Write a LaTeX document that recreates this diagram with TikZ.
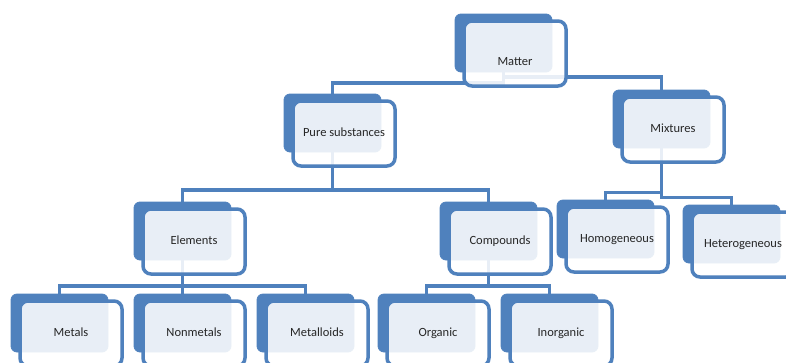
\documentclass[tikz,border=0pt]{standalone}
\usepackage{fontspec}
\setmainfont{Carlito}
\usetikzlibrary{calc}
\definecolor{obl}{HTML}{4F81BD}
\definecolor{txt}{HTML}{262626}
\pgfdeclarelayer{background}
\pgfsetlayers{background,main}
\newcommand{\orgbox}[5][]{%
  \node[backbox] (#2B) at (#3,#4) {};
  \node[frontbox,#1] (#2) at (#3+9,#4+7) {#5};}
\begin{document}
\begin{tikzpicture}[x=1pt,y=-1pt,
  backbox/.style={draw=obl,fill=obl,line width=0.8pt,rounded corners=6pt,
    minimum width=97pt,minimum height=58pt,anchor=north west,inner sep=0pt,outer sep=0pt},
  frontbox/.style={draw=obl,line width=3.5pt,fill=white,fill opacity=0.87,draw opacity=1,
    text opacity=1,rounded corners=8pt,minimum width=102pt,minimum height=65pt,
    anchor=north west,inner sep=0pt,outer sep=0pt,
    font=\fontsize{12.5}{14}\selectfont,text=txt,text height=9pt,text depth=2.5pt},
  conn/.style={draw=obl,line width=3.2pt}]
\useasboundingbox (0,0) rectangle (786,362);
\clip (0,0) rectangle (786,362);
% level 1
\orgbox[text height=25pt,text depth=2pt]{matter}{455}{14}{Matter}
% level 2
\orgbox{pure}{284}{94}{Pure substances}
\orgbox{mix}{613}{90}{Mixtures}
% level 3
\orgbox{elem}{134}{202}{Elements}
\orgbox{comp}{440}{202}{Compounds}
\orgbox{homo}{557}{200}{Homogeneous}
\orgbox{hetero}{683}{205}{Heterogeneous}
% level 4
\orgbox{metals}{11}{294}{Metals}
\orgbox{nonmetals}{134}{294}{Nonmetals}
\orgbox{metalloids}{257}{294}{Metalloids}
\orgbox{organic}{378}{294}{Organic}
\orgbox{inorganic}{501}{294}{Inorganic}
% bus levels
\coordinate (busA) at (0,83);
\coordinate (busB) at (0,77);
\coordinate (busP) at (0,190);
\coordinate (busM1) at (0,192.5);
\coordinate (busM2) at (0,197.5);
\coordinate (busE) at (0,286);
\coordinate (busC) at (0,286);
\begin{pgfonlayer}{background}
\draw[conn] (matterB.center) |- (pureB.north |- busA) -- (pureB.north);
\draw[conn] (matterB.center) |- (mixB.north |- busB) -- (mixB.north);
\draw[conn] (pureB.center) |- (elemB.north |- busP) -- (elemB.north);
\draw[conn] (pureB.center) |- (compB.north |- busP) -- (compB.north);
\draw[conn] (mixB.center) |- (homoB.north |- busM1) -- (homoB.north);
\draw[conn] (mixB.center) |- (heteroB.north |- busM2) -- (heteroB.north);
\draw[conn] (elemB.center) |- (metalsB.north |- busE) -- (metalsB.north);
\draw[conn] (elemB.center) -- (nonmetalsB.north);
\draw[conn] (elemB.center) |- (metalloidsB.north |- busE) -- (metalloidsB.north);
\draw[conn] (compB.center) |- (organicB.north |- busC) -- (organicB.north);
\draw[conn] (compB.center) |- (inorganicB.north |- busC) -- (inorganicB.north);
\end{pgfonlayer}
\end{tikzpicture}
\end{document}
